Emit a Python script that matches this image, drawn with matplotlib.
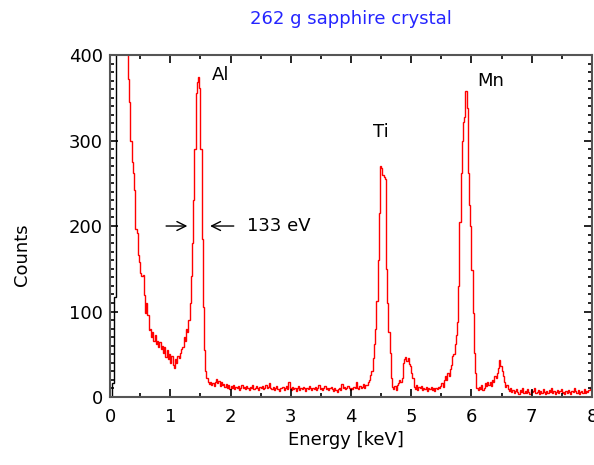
import numpy as np
import matplotlib
matplotlib.use("Agg")
import matplotlib.pyplot as plt
from matplotlib.ticker import MultipleLocator

# spectrum, 20 eV bins starting at 0.28 keV (counts)
bin_width = 0.02
red_start = 0.28
red_counts = [
    500, 372, 345, 300, 275, 262, 242, 196, 192, 166,   # 0.28
    158, 145, 141, 143, 119, 98, 110, 96, 78, 80,       # 0.48
    70, 76, 66, 72, 62, 66, 58, 64, 56, 60,             # 0.68
    52, 58, 47, 55, 44, 50, 40, 48, 38, 34,             # 0.88
    44, 40, 48, 46, 52, 56, 58, 70, 66, 80,             # 1.08
    76, 90, 110, 142, 180, 230, 290, 355, 368, 374,     # 1.28
    362, 290, 185, 105, 55, 30, 22, 18, 15, 17,         # 1.48
    14, 16, 13, 18, 21, 16, 19, 13, 17, 14,             # 1.68
    15, 12, 15, 10, 14, 9, 13, 11, 14, 9,               # 1.88
    12, 10, 13, 8, 11, 14, 10, 12, 9, 13,               # 2.08
    11, 8, 12, 10, 14, 9, 11, 13, 10, 8,                # 2.28
    12, 10, 13, 9, 11, 14, 10, 12, 16, 11,              # 2.48
    9, 12, 8, 11, 13, 9, 7, 11, 10, 12,                 # 2.68
    8, 10, 13, 9, 17, 10, 8, 12, 9, 11,                 # 2.88
    7, 10, 13, 8, 11, 9, 12, 10, 7, 11,                 # 3.08
    9, 13, 10, 8, 11, 9, 12, 8, 10, 14,                 # 3.28
    9, 11, 8, 10, 13, 9, 11, 8, 10, 12,                 # 3.48
    9, 7, 10, 8, 6, 9, 11, 8, 15, 10,                   # 3.68
    12, 9, 11, 13, 10, 8, 11, 9, 12, 10,                # 3.88
    17, 11, 9, 13, 10, 12, 15, 11, 14, 14,              # 4.08
    18, 20, 26, 30, 46, 62, 80, 112, 160, 215,          # 4.28
    270, 268, 260, 257, 255, 150, 110, 76, 52, 22,      # 4.48
    12, 9, 13, 8, 14, 16, 20, 18, 22, 40,               # 4.68
    44, 47, 42, 46, 39, 36, 28, 22, 12, 9,              # 4.88
    14, 8, 12, 10, 13, 8, 11, 9, 12, 7,                 # 5.08
    10, 9, 12, 8, 10, 7, 11, 9, 12, 10,                 # 5.28
    13, 16, 12, 20, 24, 20, 28, 25, 33, 38,             # 5.48
    48, 50, 62, 72, 88, 130, 205, 262, 300, 322,        # 5.68
    328, 358, 338, 262, 225, 200, 148, 98, 52, 28,      # 5.88
    10, 8, 12, 9, 14, 8, 10, 16, 13, 18,                # 6.08
    14, 17, 13, 20, 18, 24, 22, 28, 34, 43,             # 6.28
    36, 31, 24, 17, 12, 14, 9, 7, 10, 6,                # 6.48
    8, 5, 7, 9, 6, 4, 8, 6, 10, 5,                      # 6.68
    7, 5, 9, 6, 4, 8, 6, 7, 11, 5,                      # 6.88
    6, 8, 4, 7, 5, 9, 6, 4, 7, 5,                       # 7.08
    8, 6, 10, 5, 7, 4, 6, 8, 5, 7,                      # 7.28
    9, 5, 6, 4, 7, 5, 8, 6, 4, 7,                       # 7.48
    6, 10, 7, 5, 8, 4, 6, 7, 5, 9,                      # 7.68
    5, 7, 6, 8, 10, 13,                                 # 7.88
]

# low-energy part below threshold (black)
black_edges = [0.0, 0.03, 0.065, 0.095, 0.28]
black_counts = [0, 16, 117, 2000]

peak_names = ["Al", "Ti", "Mn"]
peak_label_pos = [(1.69, 377), (4.37, 310), (6.09, 370)]

red_counts = np.array(red_counts, dtype=float)
red_edges = red_start + bin_width * np.arange(len(red_counts) + 1)

fig = plt.figure(figsize=(5.94, 4.65), dpi=100)
ax = fig.add_axes([0.1852, 0.1462, 0.8114, 0.7355])

ax.stairs(black_counts, black_edges, baseline=None, color="black", lw=1.0)
ax.stairs(red_counts, red_edges, baseline=None, color="#ff0000", lw=1.0)

ax.set_xlim(0, 8)
ax.set_ylim(0, 400)

fs = 13
ax.xaxis.set_major_locator(MultipleLocator(1))
ax.xaxis.set_minor_locator(MultipleLocator(0.5))
ax.yaxis.set_major_locator(MultipleLocator(100))
ax.yaxis.set_minor_locator(MultipleLocator(10))
ax.tick_params(which="both", direction="in", top=True, right=True,
               labelsize=fs, color="black")
ax.tick_params(which="major", length=6, width=1.2)
ax.tick_params(which="minor", length=3, width=1.2)
ax.tick_params(axis="x", pad=8)
ax.tick_params(axis="y", pad=5)
for s in ax.spines.values():
    s.set_color("#555555")
    s.set_linewidth(1.5)

ax.set_xlabel("Energy [keV]", fontsize=fs)
ax.xaxis.set_label_coords(0.49, -0.125)
ax.xaxis.label.set_va("center")
ax.set_ylabel("Counts", fontsize=fs)
ax.yaxis.set_label_coords(-0.183, 0.415)
ax.yaxis.label.set_va("center")

ax.set_title("262 g sapphire crystal", color="#2525ff", fontsize=fs, pad=22)

for name, (x, y) in zip(peak_names, peak_label_pos):
    ax.text(x, y, name, fontsize=fs, ha="left", va="center")

# FWHM marker on the Al line
arrow = dict(arrowstyle="->", lw=1.0, color="black", mutation_scale=16)
ax.annotate("", xy=(1.33, 200), xytext=(0.885, 200), arrowprops=arrow)
ax.annotate("", xy=(1.615, 200), xytext=(2.10, 200), arrowprops=arrow)
ax.text(2.27, 200, "133 eV", fontsize=fs, ha="left", va="center")

fig.savefig("out.png", dpi=100)
